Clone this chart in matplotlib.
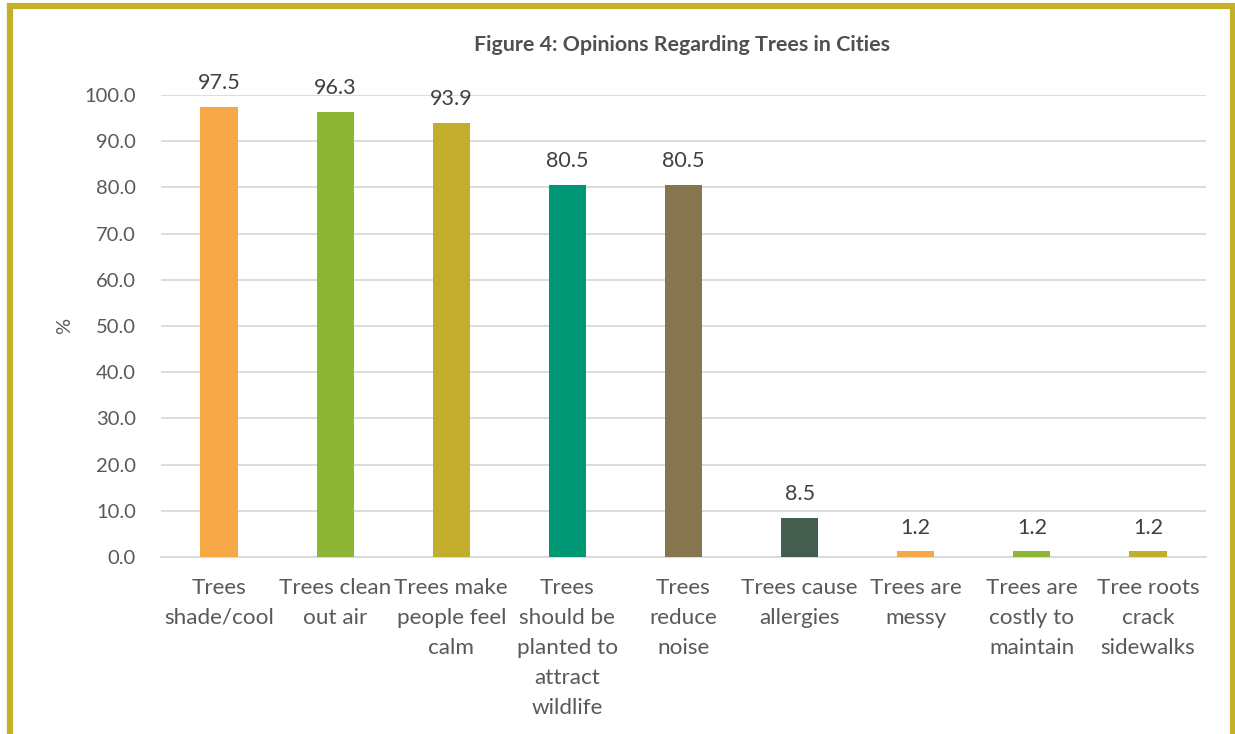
import matplotlib.pyplot as plt
from matplotlib.patches import Rectangle

# survey results, percent agreeing
categories = ['Trees\nshade/cool', 'Trees clean\nout air', 'Trees make\npeople feel\ncalm',
              'Trees\nshould be\nplanted to\nattract\nwildlife', 'Trees\nreduce\nnoise',
              'Trees cause\nallergies', 'Trees are\nmessy', 'Trees are\ncostly to\nmaintain',
              'Tree roots\ncrack\nsidewalks']
percent = [97.5, 96.3, 93.9, 80.5, 80.5, 8.5, 1.2, 1.2, 1.2]
bar_colors = ['#F7A846', '#8CB633', '#C2AE2C', '#009874', '#857650',
              '#435E4F', '#F7A846', '#8CB633', '#C2AE2C']
y_ticks = [0, 10, 20, 30, 40, 50, 60, 70, 80, 90, 100]

TEXT = '#595959'
plt.rcParams['font.family'] = ['Lato', 'DejaVu Sans']

fig = plt.figure(figsize=(12.35, 7.34), dpi=100)
ax = fig.add_axes([161/1235, 1 - 557/734, (1206-161)/1235, (557-95)/734])

x = range(len(categories))
ax.bar(x, percent, width=0.32, color=bar_colors, zorder=3)
for xi, v in zip(x, percent):
  ax.text(xi, v + 3.0, f'{v:.1f}', ha='center', va='bottom', fontsize=15.5, color='#404040')

ax.set_xlim(-0.5, len(categories) - 0.5)
ax.set_ylim(0, 100)
ax.set_yticks(y_ticks)
ax.set_yticklabels([f'{t:.1f}' for t in y_ticks], fontsize=14.5, color=TEXT)
ax.set_xticks(list(x))
ax.set_xticklabels(categories, fontsize=16.2, color=TEXT, linespacing=1.62, va='top')
ax.tick_params(length=0, axis='y', pad=18)
ax.tick_params(length=0, axis='x', pad=15)
ax.grid(axis='y', color='#D9D9D9', linewidth=1.3, zorder=0)
ax.set_axisbelow(True)
for side in ('top', 'right', 'left'):
  ax.spines[side].set_visible(False)
ax.spines['bottom'].set_color('#D9D9D9')
ax.spines['bottom'].set_linewidth(1.3)
ax.spines['bottom'].set_zorder(1)
ax.set_ylabel('%', fontsize=14.5, color=TEXT, labelpad=8)

fig.text(682/1235, 1 - 45/734, 'Figure 4: Opinions Regarding Trees in Cities',
         ha='center', va='center', fontsize=15.4, fontweight='bold', color='#505050')

# frame around the figure
gold = '#C4B12A'
fig.patches.append(Rectangle((10/1235, -0.01), 1223/1235, 1 - 6/734 + 0.01, transform=fig.transFigure,
                             fill=False, edgecolor=gold, linewidth=4.5, zorder=0))

fig.savefig('out.png', dpi=100)
